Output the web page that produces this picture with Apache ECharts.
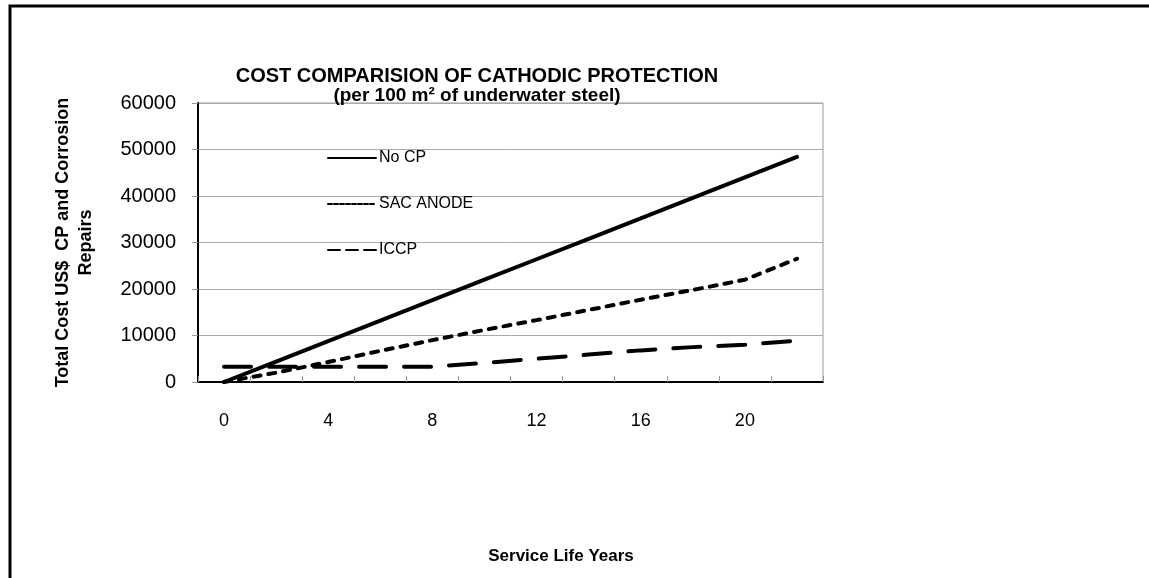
<!DOCTYPE html>
<html>
<head>
<meta charset="utf-8">
<script src="https://cdn.jsdelivr.net/npm/echarts@6/dist/echarts.min.js"></script>
<style>
  html, body { margin: 0; padding: 0; background: #fff; }
  #chart { width: 1149px; height: 578px; }
</style>
</head>
<body>
<div id="chart"></div>
<script>
// service life, years (one category every 2 years)
var years = ['0', '2', '4', '6', '8', '10', '12', '14', '16', '18', '20', '22'];
// total cost US$ per 100 m2
var noCP = [0, 4400, 8800, 13200, 17600, 22000, 26400, 30800, 35200, 39600, 44000, 48400];
var sacAnode = [0, 2000, 4300, 6700, 9000, 11200, 13300, 15500, 17700, 19800, 22000, 26500];
var iccp = [3300, 3300, 3300, 3300, 3300, 4100, 5000, 5900, 6800, 7500, 8000, 8900];

var font = 'Liberation Sans, Arial, sans-serif';

var option = {
    backgroundColor: '#fff',
    animation: false,
    title: [{
        text: '{a|COST COMPARISION OF CATHODIC PROTECTION}\n{b|(per 100 m² of underwater steel)}',
        left: 472,
        top: 61,
        textAlign: 'center',
        textStyle: {
            fontFamily: font,
            fontWeight: 'bold',
            color: '#000',
            align: 'center',
            rich: {
                a: { fontFamily: font, fontSize: 20, fontWeight: 'bold', color: '#000', lineHeight: 20 },
                b: { fontFamily: font, fontSize: 19, fontWeight: 'bold', color: '#000', lineHeight: 19 }
            }
        }
    }, {
        text: 'Service Life Years',
        left: 556,
        top: 543,
        textAlign: 'center',
        textStyle: {
            fontFamily: font,
            fontSize: 17,
            fontWeight: 'bold',
            color: '#000'
        }
    }],
    legend: {
        orient: 'vertical',
        left: 327,
        top: 150,
        padding: 0,
        itemWidth: 48,
        itemHeight: 16,
        itemGap: 30,
        itemStyle: { color: 'rgba(0,0,0,0)', borderWidth: 0, opacity: 0 },
        textStyle: { fontFamily: font, fontSize: 16, color: '#000', padding: [0, 0, 0, -2] },
        data: [
            { name: 'No CP', lineStyle: { width: 2, type: 'solid', color: '#000' } },
            { name: 'SAC ANODE', lineStyle: { width: 2, type: [4, 2], color: '#000' } },
            { name: 'ICCP', lineStyle: { width: 2, type: [12, 6], color: '#000' } }
        ]
    },
    grid: {
        left: 198,
        right: 326,
        top: 103,
        bottom: 196,
        show: true,
        borderColor: '#999',
        borderWidth: 1,
        containLabel: false
    },
    xAxis: {
        type: 'category',
        data: years,
        boundaryGap: true,
        axisLine: { lineStyle: { color: '#000', width: 2 } },
        axisTick: { show: true, interval: 0, inside: true, length: 6, lineStyle: { color: '#999' } },
        axisLabel: { interval: 1, margin: 30, fontFamily: font, fontSize: 18, color: '#000' },
        splitLine: { show: false }
    },
    yAxis: {
        type: 'value',
        min: 0,
        max: 60000,
        interval: 10000,
        name: 'Total Cost US$  CP and Corrosion\nRepairs',
        nameLocation: 'middle',
        nameGap: 100,
        nameTextStyle: { fontFamily: font, fontSize: 18, fontWeight: 'bold', color: '#000', lineHeight: 23, align: 'center' },
        axisLine: { show: true, lineStyle: { color: '#000', width: 2 } },
        axisTick: { show: true, length: 6, lineStyle: { color: '#999' } },
        axisLabel: {
            margin: 22, fontFamily: font, fontSize: 20, color: '#000',
            formatter: function (v) { return String(v); }
        },
        splitLine: { show: true, lineStyle: { color: '#aaa', width: 1 } }
    },
    series: [{
        name: 'No CP',
        type: 'line',
        data: noCP,
        symbol: 'none',
        lineStyle: { color: '#000', width: 4, type: 'solid', cap: 'round' },
        itemStyle: { color: '#000' }
    }, {
        name: 'SAC ANODE',
        type: 'line',
        data: sacAnode,
        symbol: 'none',
        lineStyle: { color: '#000', width: 4, type: [7, 8], cap: 'round' },
        itemStyle: { color: '#000' }
    }, {
        name: 'ICCP',
        type: 'line',
        data: iccp,
        symbol: 'none',
        lineStyle: { color: '#000', width: 4, type: [27, 18], cap: 'round' },
        itemStyle: { color: '#000' }
    }],
    graphic: [{
        type: 'polyline',
        shape: { points: [[10, 578], [10, 6], [1149, 6]] },
        style: { stroke: '#000', lineWidth: 3, fill: 'none' }
    }]
};

var myChart = echarts.init(document.getElementById('chart'));
myChart.setOption(option);
</script>
</body>
</html>
